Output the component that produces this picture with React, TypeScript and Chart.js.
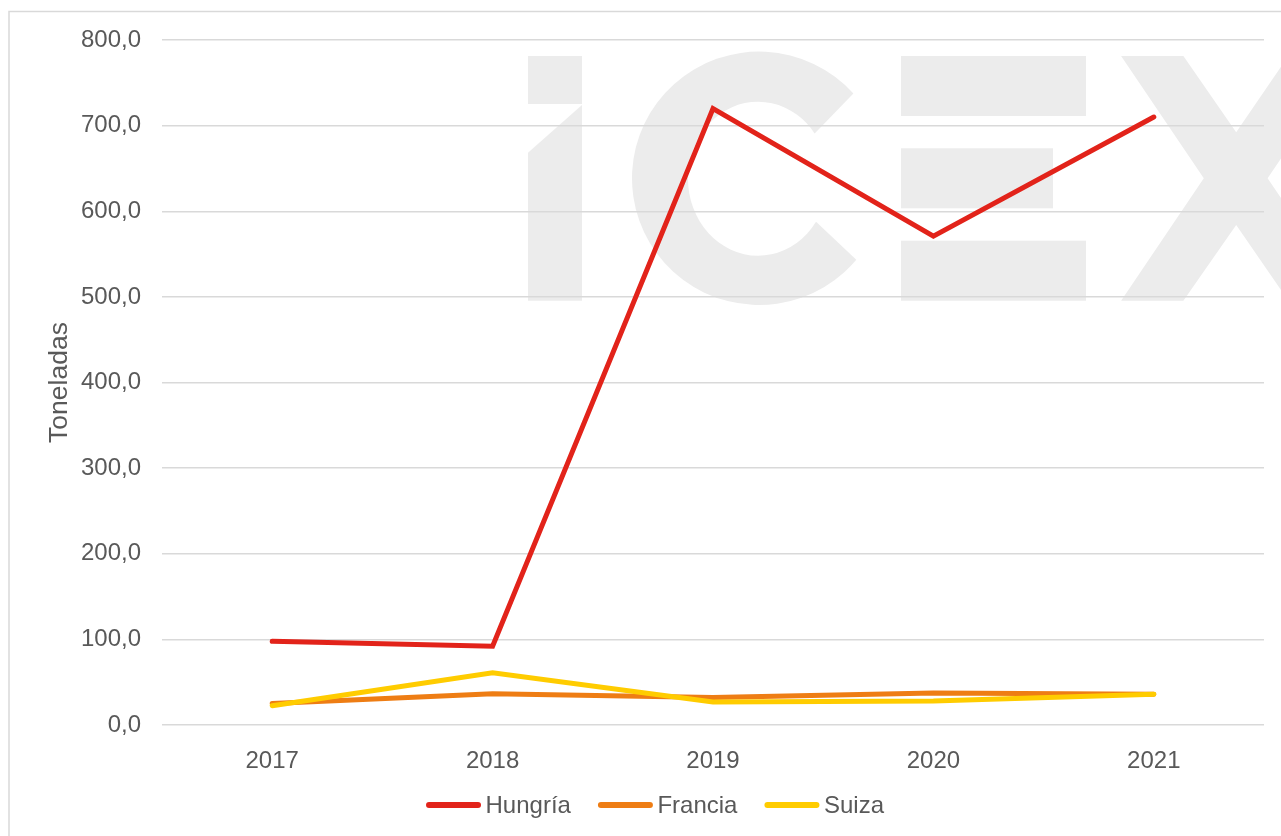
import React, { useEffect, useRef } from "react";
import { Chart, registerables } from "chart.js";

Chart.register(...registerables);

const categories = ["2017", "2018", "2019", "2020", "2021"];
const hungria = [97.7, 92, 720, 571, 710];
const francia = [25, 36.5, 32, 37.5, 36];
const suiza = [22.5, 61, 27, 28, 36];
const seriesNames = ["Hungría", "Francia", "Suiza"];
const seriesColors = ["#E2231A", "#EE7D14", "#FFCC00"];
const yMin = 0;
const yMax = 800;
const yStep = 100;
const yTitle = "Toneladas";

const FONT = "'Liberation Sans', Arial, sans-serif";
const TEXT = "#595959";

const watermarkPlugin = {
  id: "watermark",
  beforeDraw(chart: any) {
    const ctx = chart.ctx;
    ctx.save();
    ctx.fillStyle = "#ffffff";
    ctx.fillRect(0, 0, chart.width, chart.height);
    ctx.strokeStyle = "#d9d9d9";
    ctx.lineWidth = 1.5;
    ctx.strokeRect(9, 11.5, 2000, 2000);
    ctx.fillStyle = "#ececec";
    // i
    ctx.fillRect(528, 56, 54, 48);
    ctx.beginPath();
    ctx.moveTo(528, 152.7);
    ctx.lineTo(582, 105);
    ctx.lineTo(582, 300.7);
    ctx.lineTo(528, 300.7);
    ctx.closePath();
    ctx.fill();
    // C
    const d = Math.PI / 180;
    ctx.beginPath();
    ctx.ellipse(759, 178.3, 127, 126.7, 0, -42 * d, 40 * d, true);
    ctx.ellipse(758, 178.7, 70, 77, 0, 34 * d, -36 * d, false);
    ctx.closePath();
    ctx.fill();
    // E
    ctx.fillRect(901, 56, 185, 60);
    ctx.fillRect(901, 148.3, 152, 60);
    ctx.fillRect(901, 240.7, 185, 60);
    // X
    ctx.beginPath();
    const pts = [
      [1121.1, 56], [1183.4, 56], [1236.2, 132.3], [1288.3, 56], [1350.6, 56],
      [1267.6, 178.3], [1350.6, 300.7], [1288.3, 300.7], [1236.2, 225],
      [1183.4, 300.7], [1121.1, 300.7], [1203.8, 178.3],
    ];
    pts.forEach((p, i) => (i ? ctx.lineTo(p[0], p[1]) : ctx.moveTo(p[0], p[1])));
    ctx.closePath();
    ctx.fill();
    ctx.restore();
  },
};

const legendPlugin = {
  id: "customLegend",
  afterDraw(chart: any) {
    const ctx = chart.ctx;
    ctx.save();
    ctx.font = `24px ${FONT}`;
    const sample = 55;
    const gap = 4.5;
    const spacing = 27;
    const items = chart.data.datasets.map((ds: any) => ({
      label: ds.label,
      color: ds.borderColor,
      w: ctx.measureText(ds.label).width,
    }));
    const total = items.reduce((s: number, it: any) => s + sample + gap + it.w, 0) + spacing * (items.length - 1);
    let x = 655 - total / 2;
    const y = 805;
    items.forEach((it: any) => {
      ctx.strokeStyle = it.color;
      ctx.lineWidth = 6;
      ctx.lineCap = "round";
      ctx.beginPath();
      ctx.moveTo(x + 3, y);
      ctx.lineTo(x + sample - 3, y);
      ctx.stroke();
      ctx.fillStyle = TEXT;
      ctx.textBaseline = "alphabetic";
      ctx.textAlign = "left";
      ctx.fillText(it.label, x + sample + gap, y + 7.5);
      x += sample + gap + it.w + spacing;
    });
    ctx.restore();
  },
};

export default function App() {
  const ref = useRef<HTMLCanvasElement>(null);
  useEffect(() => {
    document.body.style.overflow = "hidden";
    const values = [hungria, francia, suiza];
    const chart = new Chart(ref.current!, {
      type: "line",
      data: {
        labels: categories,
        datasets: seriesNames.map((name, i) => ({
          label: name,
          data: values[i],
          borderColor: seriesColors[i],
          backgroundColor: seriesColors[i],
          borderWidth: 5,
          borderCapStyle: "round",
          borderJoinStyle: "miter",
          pointRadius: 0,
          tension: 0,
          order: 2 - i,
        })),
      },
      options: {
        responsive: false,
        animation: false,
        devicePixelRatio: 1,
        layout: { padding: { top: 40, right: 17, bottom: 0, left: 0 } },
        plugins: { legend: { display: false }, tooltip: { enabled: false } },
        scales: {
          x: {
            type: "category",
            offset: true,
            grid: { display: false },
            border: { display: false },
            ticks: { color: TEXT, font: { family: FONT, size: 24 }, padding: 14, maxRotation: 0 },
            afterFit: (s: any) => { s.height = 111; },
          },
          y: {
            min: yMin,
            max: yMax,
            border: { display: false },
            grid: { color: "#d9d9d9", lineWidth: 1.5, drawTicks: false },
            ticks: {
              stepSize: yStep,
              color: TEXT,
              font: { family: FONT, size: 24 },
              padding: 21,
              callback: (v: any) => Number(v).toFixed(1).replace(".", ","),
            },
            title: {
              display: true,
              text: yTitle,
              color: TEXT,
              font: { family: FONT, size: 26.5 },
              padding: { top: 44, bottom: 0 },
            },
            afterFit: (s: any) => { s.width = 162; },
          },
        },
      },
      plugins: [watermarkPlugin, legendPlugin],
    } as any);
    return () => chart.destroy();
  }, []);
  return (
    <canvas
      ref={ref}
      width={1281}
      height={836}
      style={{ position: "fixed", left: 0, top: 0, width: 1281, height: 836 }}
    />
  );
}
